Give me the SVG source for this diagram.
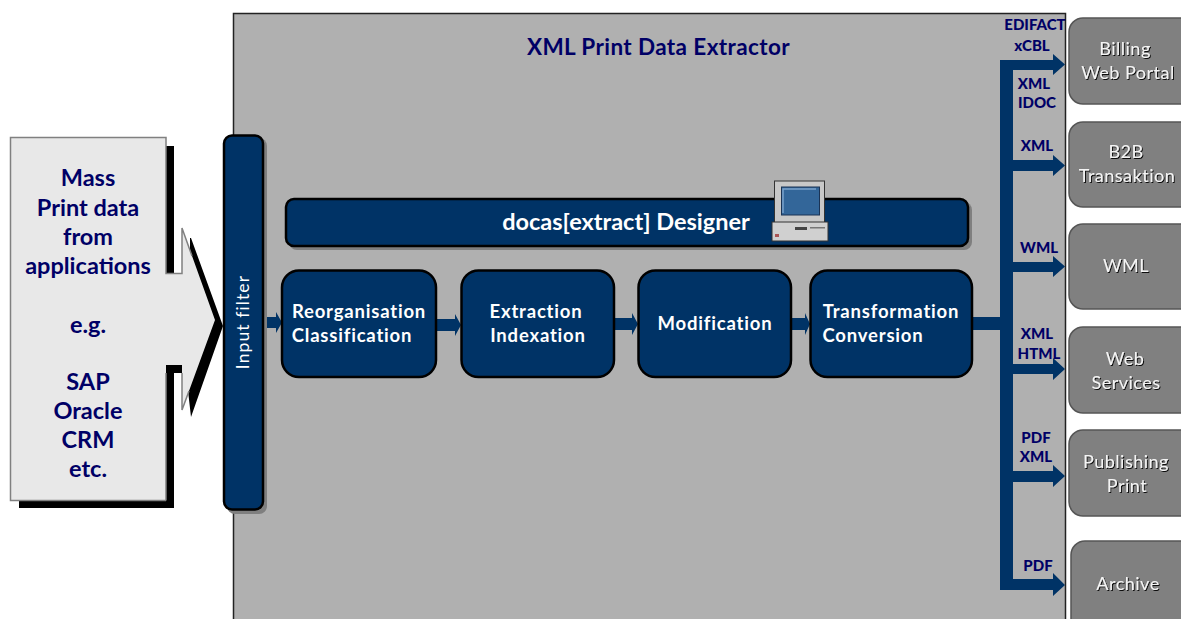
<svg xmlns="http://www.w3.org/2000/svg" width="1181" height="619" viewBox="0 0 1181 619">
<style>
text{font-family:"Lato","Open Sans","Liberation Sans",sans-serif;text-anchor:middle}
.blue{fill:#003366;stroke:#000;stroke-width:2.5}
.sh{fill:#7f7f7f}
.w{fill:#fff;font-weight:700;font-size:18.5px;letter-spacing:.8px}
.src{fill:#000066;font-weight:700;font-size:23.500px}
.lab{fill:#000066;font-weight:900;font-size:15px}
.grey{fill:#808080;stroke:#555;stroke-width:1.5}
.out{fill:#f4f4f4;font-size:18px;letter-spacing:.5px;filter:url(#ts)}
.c{fill:#003366}
</style>
<defs>
<filter id="ts" x="-10%" y="-20%" width="120%" height="140%"><feDropShadow dx="1" dy="1" stdDeviation="0.4" flood-color="#111"/></filter>
</defs>
<g id="panel"><rect x="233.500" y="13.500" width="832" height="620" fill="#b0b0b0" stroke="#222" stroke-width="1.500"/>
<text x="658.500" y="55" font-size="22.500" font-weight="700" fill="#000066" style="letter-spacing:.4px">XML Print Data Extractor</text></g>
<g id="source">
<path d="M19 146H174V274H190V238H191L223 326L191 417L186 373H174V508H19Z" fill="#000"/>
<path d="M10.500 137.500H166V274H182V228L215 320L182 410V365H166V500.500H10.500Z" fill="#e8e8e8"/>
<path d="M166 500.500H10.500V137.500H166V273.500H182V228L192 256M166 500.500V373M182 373V410L189 391" stroke="#808080" stroke-width="1.500" fill="none"/>
<text class="src" x="88" y="186">Mass</text>
<text class="src" x="88" y="216">Print data</text>
<text class="src" x="88" y="245">from</text>
<text class="src" x="88" y="274">applications</text>
<text class="src" x="88" y="333">e.g.</text>
<text class="src" x="88" y="390">SAP</text>
<text class="src" x="88" y="419">Oracle</text>
<text class="src" x="88" y="448">CRM</text>
<text class="src" x="88" y="477">etc.</text>
</g>
<g id="connectors" class="c">
<path d="M263 317h13v-5l6 10.500-6 10.500v-5h-13z"/>
<path d="M436 319h19v-5l6 11-6 11v-5h-19z"/>
<path d="M614 318h18v-5l6 11-6 11v-5h-18z"/>
<path d="M791 318h14v-5l5 11-5 11v-5h-14z"/>
<path d="M972 317h28V60h53v-6l12 10.500-12 10.500v-5h-40V160h40v-5l12 10.500-12 10.500v-5h-40V262h40v-6l12 10.500-12 10.500v-5h-40V364h40v-6l12 11-12 11v-6h-40V471h40v-6l12 11-12 11v-5h-40V579h40v-6l12 12-12 11v-6h-53V330h-28z"/>
</g>
<g id="input-filter">
<rect class="sh" x="227" y="138" width="40" height="376" rx="8"/>
<rect class="blue" x="224" y="135.500" width="39" height="374" rx="8"/>
<text class="w" transform="translate(249 322) rotate(-90)" style="font-weight:400;font-size:17.5px;letter-spacing:1.100px">Input filter</text>
</g>
<g id="designer">
<rect class="sh" x="289" y="202" width="683" height="48" rx="8"/>
<rect class="blue" x="286" y="199" width="682" height="47" rx="8"/>
<text x="626" y="230" fill="#fff" font-size="23.500" font-weight="700">docas[extract] Designer</text>
</g>
<g id="computer">
<rect x="774.500" y="181" width="50" height="42" fill="#c8c8c8" stroke="#333"/>
<rect x="781.500" y="187" width="38" height="28" fill="#336699" stroke="#1a3355"/>
<path d="M783 213V189H816" fill="none" stroke="#7ba3cc" stroke-width="1.500"/>
<rect x="772" y="222" width="56" height="19" fill="#d0d0d0" stroke="#333"/>
<rect x="795" y="227" width="12" height="3" fill="#444"/>
<rect x="810" y="227" width="15" height="1.500" fill="#777"/>
<rect x="775" y="234" width="4" height="3" fill="#a55"/>
</g>
<g id="reorganisation"><rect class="blue" x="282" y="270.500" width="154" height="106.500" rx="17"/>
<text class="w" x="359" y="318">Reorganisation</text><text class="w" x="352" y="342">Classification</text></g>
<g id="extraction"><rect class="blue" x="461.500" y="270.500" width="152.500" height="106.500" rx="17"/>
<text class="w" x="536" y="318">Extraction</text><text class="w" x="538" y="342">Indexation</text></g>
<g id="modification"><rect class="blue" x="638.500" y="270.500" width="152.500" height="106.500" rx="17"/>
<text class="w" x="715" y="330">Modification</text></g>
<g id="transformation"><rect class="blue" x="810.500" y="270.500" width="161.500" height="106.500" rx="17"/>
<text class="w" x="891" y="318">Transformation</text><text class="w" x="873" y="342">Conversion</text></g>
<g id="labels">
<text class="lab" x="1035" y="30">EDIFACT</text>
<text class="lab" x="1032" y="51">xCBL</text>
<text class="lab" x="1034" y="89">XML</text>
<text class="lab" x="1037" y="108">IDOC</text>
<text class="lab" x="1037" y="151">XML</text>
<text class="lab" x="1039" y="253">WML</text>
<text class="lab" x="1037" y="339">XML</text>
<text class="lab" x="1039" y="359">HTML</text>
<text class="lab" x="1036" y="443">PDF</text>
<text class="lab" x="1036" y="462">XML</text>
<text class="lab" x="1038" y="571">PDF</text>
</g>
<g id="billing"><rect class="grey" x="1069" y="18" width="130" height="86" rx="14"/><text class="out" x="1125" y="55">Billing</text><text class="out" x="1128" y="79">Web Portal</text></g>
<g id="b2b"><rect class="grey" x="1069" y="122" width="130" height="85" rx="14"/><text class="out" x="1126" y="158">B2B</text><text class="out" x="1127" y="182">Transaktion</text></g>
<g id="wml"><rect class="grey" x="1069" y="224" width="130" height="85" rx="14"/><text class="out" x="1126" y="272">WML</text></g>
<g id="web"><rect class="grey" x="1069" y="327" width="130" height="86" rx="14"/><text class="out" x="1125" y="365">Web</text><text class="out" x="1126" y="389">Services</text></g>
<g id="publishing"><rect class="grey" x="1069" y="430" width="130" height="86" rx="14"/><text class="out" x="1126" y="468">Publishing</text><text class="out" x="1127" y="492">Print</text></g>
<g id="archive"><rect class="grey" x="1071" y="541" width="130" height="100" rx="14"/><text class="out" x="1128" y="590">Archive</text></g>
</svg>
